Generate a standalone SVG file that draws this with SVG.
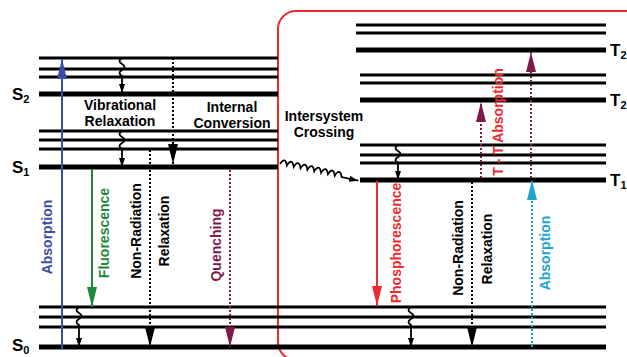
<svg xmlns="http://www.w3.org/2000/svg" width="627" height="357" viewBox="0 0 627 357">
<style>
.thin{stroke:#000;stroke-width:3}
.thick{stroke:#000;stroke-width:5}
.lbl{font-family:"Liberation Sans",Arial,sans-serif;font-weight:bold;font-size:14px;fill:#000;text-anchor:middle}
.st{font-family:"Liberation Sans",Arial,sans-serif;font-weight:bold;font-size:17px;fill:#000}
.sub{font-size:11px}
.vt{font-family:"Liberation Sans",Arial,sans-serif;font-weight:bold;font-size:14px;text-anchor:middle;dominant-baseline:central}
.dot{stroke-dasharray:2,2;stroke-width:2;fill:none}
.sol{stroke-width:2;fill:none}
.wv{stroke:#000;stroke-width:1.8;fill:none}
</style>
<defs>
<marker id="hk" markerUnits="userSpaceOnUse" markerWidth="22" markerHeight="12" viewBox="0 -6 22 12" refX="20" refY="0" orient="auto"><path d="M0,-5 L20,0 L0,5 z" fill="#000"/></marker>
<marker id="hb" markerUnits="userSpaceOnUse" markerWidth="22" markerHeight="12" viewBox="0 -6 22 12" refX="20" refY="0" orient="auto"><path d="M0,-5 L20,0 L0,5 z" fill="#3a4ea5"/></marker>
<marker id="hg" markerUnits="userSpaceOnUse" markerWidth="22" markerHeight="12" viewBox="0 -6 22 12" refX="20" refY="0" orient="auto"><path d="M0,-5 L20,0 L0,5 z" fill="#1a8a3a"/></marker>
<marker id="hm" markerUnits="userSpaceOnUse" markerWidth="22" markerHeight="12" viewBox="0 -6 22 12" refX="20" refY="0" orient="auto"><path d="M0,-5 L20,0 L0,5 z" fill="#7d1a4a"/></marker>
<marker id="hr" markerUnits="userSpaceOnUse" markerWidth="22" markerHeight="12" viewBox="0 -6 22 12" refX="20" refY="0" orient="auto"><path d="M0,-5 L20,0 L0,5 z" fill="#ee2a2e"/></marker>
<marker id="hc" markerUnits="userSpaceOnUse" markerWidth="22" markerHeight="12" viewBox="0 -6 22 12" refX="20" refY="0" orient="auto"><path d="M0,-5 L20,0 L0,5 z" fill="#1fa6cc"/></marker>
<marker id="hs" markerUnits="userSpaceOnUse" markerWidth="10" markerHeight="8" viewBox="0 -4 10 8" refX="9" refY="0" orient="auto"><path d="M0,-3 L9,0 L0,3 z" fill="#000"/></marker>
</defs>
<rect width="627" height="357" fill="#fff"/>

<g id="triplet-box">
<rect x="278" y="11" width="400" height="349" rx="18" fill="none" stroke="#ee2a2e" stroke-width="2"/>
</g>

<g id="S2">
<line class="thin" x1="39" y1="58" x2="278" y2="58"/>
<line class="thin" x1="39" y1="69" x2="278" y2="69"/>
<line class="thin" x1="39" y1="77" x2="278" y2="77"/>
<line class="thick" x1="39" y1="94" x2="278" y2="94"/>
<text class="st" x="12" y="100">S<tspan class="sub" dy="3">2</tspan></text>
</g>
<g id="S1">
<line class="thin" x1="39" y1="131" x2="278" y2="131"/>
<line class="thin" x1="39" y1="140" x2="278" y2="140"/>
<line class="thin" x1="39" y1="149" x2="278" y2="149"/>
<line class="thick" x1="39" y1="167" x2="278" y2="167"/>
<text class="st" x="12" y="173">S<tspan class="sub" dy="3">1</tspan></text>
</g>
<g id="S0">
<line class="thin" x1="39" y1="307" x2="606" y2="307"/>
<line class="thin" x1="39" y1="317" x2="606" y2="317"/>
<line class="thin" x1="39" y1="327" x2="606" y2="327"/>
<line class="thick" x1="39" y1="347" x2="606" y2="347"/>
<text class="st" x="12" y="351">S<tspan class="sub" dy="3">0</tspan></text>
</g>
<g id="T3">
<line class="thin" x1="356" y1="25" x2="606" y2="25"/>
<line class="thin" x1="356" y1="33" x2="606" y2="33"/>
<line class="thick" x1="356" y1="50" x2="606" y2="50"/>
<text class="st" x="610" y="56">T<tspan class="sub" dy="3">2</tspan></text>
</g>
<g id="T2">
<line class="thin" x1="360" y1="75" x2="606" y2="75"/>
<line class="thin" x1="360" y1="83" x2="606" y2="83"/>
<line class="thick" x1="360" y1="100" x2="606" y2="100"/>
<text class="st" x="610" y="106">T<tspan class="sub" dy="3">2</tspan></text>
</g>
<g id="T1">
<line class="thin" x1="360" y1="145" x2="606" y2="145"/>
<line class="thin" x1="360" y1="155" x2="606" y2="155"/>
<line class="thin" x1="360" y1="163" x2="606" y2="163"/>
<line class="thick" x1="360" y1="180" x2="606" y2="180"/>
<text class="st" x="610" y="186">T<tspan class="sub" dy="3">1</tspan></text>
</g>

<g id="connectors">
<line class="sol" stroke="#3a4ea5" x1="62" y1="349" x2="62" y2="59" marker-end="url(#hb)"/>
<line class="sol" stroke="#1a8a3a" x1="92" y1="169" x2="92" y2="307" marker-end="url(#hg)"/>
<line class="dot" stroke="#000" x1="150" y1="150" x2="150" y2="347" marker-end="url(#hk)"/>
<line class="dot" stroke="#7d1a4a" x1="230" y1="170" x2="230" y2="347" marker-end="url(#hm)"/>
<line class="dot" stroke="#000" x1="173" y1="58" x2="173" y2="164" marker-end="url(#hk)"/>
<path class="wv" d="M122,58 q-5,3 0,6 q5,3 0,6 q-5,3 0,6 V93" marker-end="url(#hs)"/>
<path class="wv" d="M122,131 q-5,3 0,6 q5,3 0,6 q-5,3 0,6 V167" marker-end="url(#hs)"/>
<path class="wv" d="M79,307 q-5,3 0,6 q5,3 0,6 q-5,3 0,6 V347" marker-end="url(#hs)"/>
<path class="wv" d="M398,145 q-5,3 0,6 q5,3 0,6 q-5,3 0,6 V180" marker-end="url(#hs)"/>
<path class="wv" d="M411,307 q-5,3 0,6 q5,3 0,6 q-5,3 0,6 V347" marker-end="url(#hs)"/>
<path class="wv" transform="translate(280,164) rotate(12)" d="M0,0 q3.5,-9 7,0 q3.5,-9 7,0 q3.5,-9 7,0 q3.5,-9 7,0 q3.5,-9 7,0 q3.5,-9 7,0 q3.5,-9 7,0 q3.5,-9 7,0 q3.5,-9 7,0 h17" marker-end="url(#hs)"/>
<line class="sol" stroke="#ee2a2e" x1="377" y1="181" x2="377" y2="306" marker-end="url(#hr)"/>
<line class="dot" stroke="#000" x1="472" y1="182" x2="472" y2="347" marker-end="url(#hk)"/>
<line class="dot" stroke="#1fa6cc" x1="532" y1="347" x2="532" y2="180" marker-end="url(#hc)"/>
<line class="dot" stroke="#7d1a4a" x1="481" y1="178" x2="481" y2="102" marker-end="url(#hm)"/>
<line class="dot" stroke="#7d1a4a" x1="531" y1="178" x2="531" y2="52" marker-end="url(#hm)"/>
</g>

<g id="labels">
<text class="lbl" x="120" y="110">Vibrational</text>
<text class="lbl" x="120" y="126">Relaxation</text>
<text class="lbl" x="232" y="112">Internal</text>
<text class="lbl" x="232" y="128">Conversion</text>
<text class="lbl" x="324" y="121">Intersystem</text>
<text class="lbl" x="324" y="137">Crossing</text>
<text class="vt" fill="#3a4ea5" transform="translate(47,237) rotate(-90)">Absorption</text>
<text class="vt" fill="#1a8a3a" transform="translate(104,233) rotate(-90)">Fluorescence</text>
<text class="vt" fill="#000" transform="translate(136,231) rotate(-90)">Non-Radiation</text>
<text class="vt" fill="#000" transform="translate(164,231) rotate(-90)">Relaxation</text>
<text class="vt" fill="#7d1a4a" transform="translate(216,245) rotate(-90)">Quenching</text>
<text class="vt" fill="#ee2a2e" transform="translate(396,243) rotate(-90)">Phosphorescence</text>
<text class="vt" fill="#000" transform="translate(458,248) rotate(-90)">Non-Radiation</text>
<text class="vt" fill="#000" transform="translate(487,249) rotate(-90)">Relaxation</text>
<text class="vt" fill="#1fa6cc" transform="translate(545,253) rotate(-90)">Absorption</text>
<text class="vt" fill="#ee2a2e" transform="translate(498,122) rotate(-90)">T - T Absorption</text>
</g>
</svg>
